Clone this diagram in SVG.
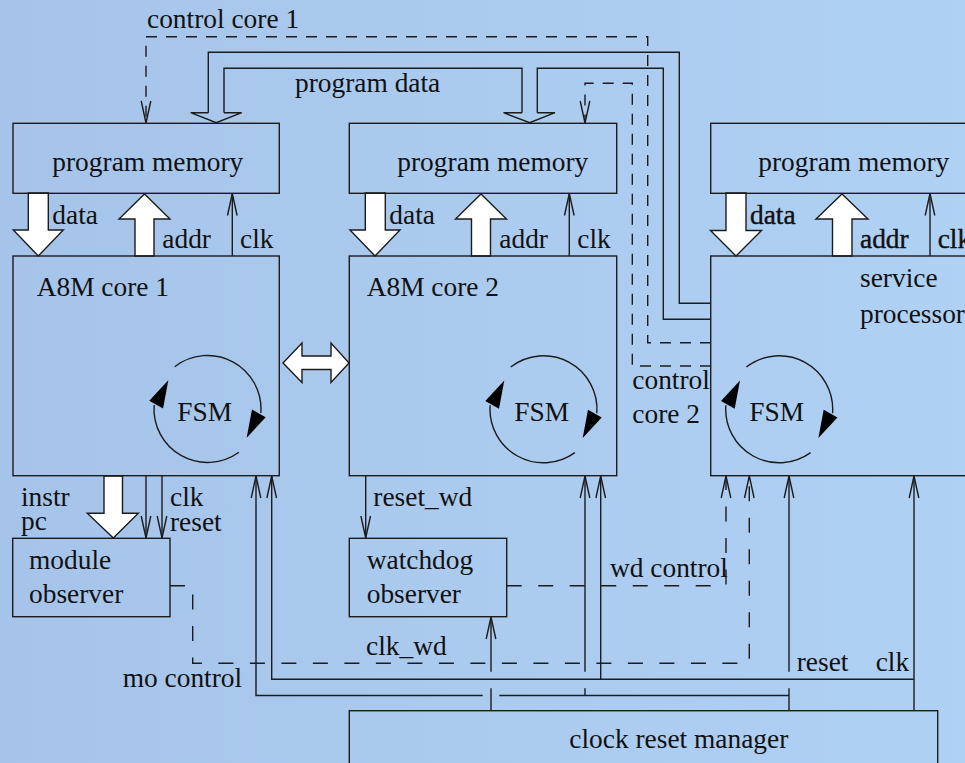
<svg xmlns="http://www.w3.org/2000/svg" width="965" height="763" viewBox="0 0 965 763">
  <style>
    .t { font-family: "Liberation Serif", "Times New Roman", serif; font-size: 27.4px; fill: #111; }
    .box { fill: none; stroke: #1c1c1c; stroke-width: 1.4; }
    .ln { fill: none; stroke: #1c1c1c; stroke-width: 1.4; }
    .arr { marker-end: url(#open); }
    .fat { fill: #fff; stroke: #1c1c1c; stroke-width: 1.4; stroke-linejoin: miter; }
    .d1 { fill: none; stroke: #1c1c1c; stroke-width: 1.4; stroke-dasharray: 11 9; }
    .d2 { fill: none; stroke: #1c1c1c; stroke-width: 1.4; stroke-dasharray: 15 16.5; }
    .fsmarc { fill: none; stroke: #1c1c1c; stroke-width: 1.4; }
    .fsmhead { fill: #000; stroke: none; }
    .bold { stroke: #111; stroke-width: 0.4; }
  </style>
  <defs>
    <linearGradient id="bg" x1="0" y1="0" x2="1" y2="0">
      <stop offset="0" stop-color="#a6c4e9"/>
      <stop offset="1" stop-color="#afd1f4"/>
    </linearGradient>
    <!-- open V arrowhead for thin signal lines -->
    <marker id="open" markerUnits="userSpaceOnUse" viewBox="-24 -7 26 14" markerWidth="26" markerHeight="14" refX="0" refY="0" orient="auto" overflow="visible">
      <path d="M-22,-4.8 L0,0 L-22,4.8" fill="none" stroke="#1c1c1c" stroke-width="1.4" stroke-dasharray="none"/>
    </marker>
    <!-- state machine symbol: two arcs with filled heads, centred on 0,0 -->
    <g id="fsm">
      <path class="fsmarc" d="M-32.8,-42.3 A53.5,53.5 0 0 1 53.35,4"/>
      <path class="fsmarc" d="M31.4,43.3 A53.5,53.5 0 0 1 -53.35,-4"/>
      <polygon class="fsmhead" points="39.2,28.7 44.5,0.5 58.2,8.3"/>
      <polygon class="fsmhead" points="-39.2,-28.7 -44.5,-0.5 -58.2,-8.3"/>
    </g>
  </defs>

  <rect width="965" height="763" fill="url(#bg)"/>

  <g id="connectors">
    <!-- wide data / address buses -->
    <path class="fat" d="M28.3,193 H48.3 V230 H63.3 L38.3,256 L13.3,230 H28.3 Z"/>
    <path class="fat" d="M365.3,193 H385.3 V230 H400 L375,256 L350,230 H365.3 Z"/>
    <path class="fat" d="M726,193 H746 V230.5 H761.5 L736,256 L710.5,230.5 H726 Z"/>
    <path class="fat" d="M144.5,194 L170,219 H154 V256 H135 V219 H119 Z"/>
    <path class="fat" d="M481,194 L506.5,219 H490.5 V256 H471.5 V219 H455.5 Z"/>
    <path class="fat" d="M842,194 L868,219 H852 V256 H832.5 V219 H816 Z"/>
    <path class="fat" d="M104,476 H122.5 V513.3 H138.3 L113.3,538 L87.3,513.3 H104 Z"/>
    <path class="fat" d="M283,363 L302,343 V356 H331 V343 L349,363 L331,382.5 V369.5 H302 V382.5 Z"/>

    <!-- program data bus (hollow outline) -->
    <path class="ln" d="M208.3,112.7 V52.3 H679.3 V303.3 H711"/>
    <path class="ln" d="M224,112.7 V68.3 H522 V112.7"/>
    <path class="ln" d="M537.3,112.7 V68.3 H663.3 V319.3 H711"/>
    <path class="ln" d="M208.3,112.7 H190.7 L216.2,122.7 L241.7,112.7 H224"/>
    <path class="ln" d="M522,112.7 H503.5 L529.7,122.7 L555,112.7 H537.3"/>

    <!-- memory clocks -->
    <path class="ln arr" d="M232.3,256 V193.5"/>
    <path class="ln arr" d="M569.3,256 V193.5"/>
    <path class="ln arr" d="M930,256 V193.5"/>

    <!-- core 1 to module observer -->
    <path class="ln arr" d="M146,476 V538"/>
    <path class="ln arr" d="M162,476 V538"/>
    <!-- reset_wd -->
    <path class="ln arr" d="M365.7,476 V538"/>

    <!-- clock distribution -->
    <path class="ln arr" d="M914,711 V476"/>
    <path class="ln arr" d="M914,679.3 H271.7 V476"/>
    <path class="ln arr" d="M600.7,679.3 V476"/>

    <!-- reset distribution (bridged at crossings) -->
    <path class="ln" d="M789,711 V688.3"/>
    <path class="ln arr" d="M789,671.7 V476"/>
    <path class="ln" d="M789,695.5 H499.3"/>
    <path class="ln arr" d="M482.7,695.5 H256 V476"/>
    <path class="ln" d="M585,695.5 V688.3"/>
    <path class="ln arr" d="M585,671.7 V476"/>

    <!-- clk_wd -->
    <path class="ln" d="M491,711 V688.3"/>
    <path class="ln arr" d="M491,671.7 V617"/>

    <!-- control paths from the service processor -->
    <path class="d1 arr" d="M711,342.7 H647.7 V36.7 H146 V123"/>
    <path class="d1 arr" d="M711,366 H632.3 V83.3 H585 V123"/>
    <path class="d2 arr" d="M170,585.7 H192.7 V663.3 H749.3 V476"/>
    <path class="d2 arr" d="M506.7,585.7 H726 V476"/>

    <!-- connector labels -->
    <text class="t" x="147" y="28">control core 1</text>
    <text class="t" x="295" y="91.7">program data</text>
    <text class="t" x="52.3" y="224">data</text>
    <text class="t" x="162.3" y="248.3">addr</text>
    <text class="t" x="240" y="248.3">clk</text>
    <text class="t" x="389.3" y="224">data</text>
    <text class="t" x="499.3" y="248.3">addr</text>
    <text class="t" x="577.3" y="248.3">clk</text>
    <text class="t bold" x="750" y="224.3">data</text>
    <text class="t bold" x="860" y="248.3">addr</text>
    <text class="t bold" x="937.7" y="248.3">clk</text>
    <text class="t" x="632.3" y="389">control</text>
    <text class="t" x="632.3" y="423">core 2</text>
    <text class="t" x="21" y="506">instr</text>
    <text class="t" x="21" y="530">pc</text>
    <text class="t" x="170" y="506">clk</text>
    <text class="t" x="170" y="530.7">reset</text>
    <text class="t" x="373.3" y="506">reset_wd</text>
    <text class="t" x="610" y="576.7">wd control</text>
    <text class="t" x="366" y="655">clk_wd</text>
    <text class="t" x="122.7" y="686.7">mo control</text>
    <text class="t" x="796.7" y="671">reset</text>
    <text class="t" x="875.7" y="671">clk</text>
  </g>

  <g id="pmem1">
    <rect class="box" x="13" y="123.3" width="266.3" height="70"/>
    <text class="t" x="52.3" y="170.7">program memory</text>
  </g>
  <g id="pmem2">
    <rect class="box" x="349.3" y="123.3" width="267.4" height="70"/>
    <text class="t" x="397.3" y="170.7">program memory</text>
  </g>
  <g id="pmem3">
    <rect class="box" x="710.7" y="123.3" width="300" height="70"/>
    <text class="t" x="758.3" y="170.7">program memory</text>
  </g>

  <g id="core1">
    <rect class="box" x="13" y="256" width="266.3" height="219.7"/>
    <text class="t" x="36.7" y="295.7">A8M core 1</text>
    <use href="#fsm" x="207.5" y="409"/>
    <text class="t" x="177.3" y="421">FSM</text>
  </g>
  <g id="core2">
    <rect class="box" x="349.3" y="256" width="267.4" height="219.7"/>
    <text class="t" x="366.7" y="295.7">A8M core 2</text>
    <use href="#fsm" x="543.5" y="409.3"/>
    <text class="t" x="514.3" y="420.7">FSM</text>
  </g>
  <g id="service">
    <rect class="box" x="710.7" y="256" width="300" height="219.7"/>
    <text class="t" x="860" y="286.7">service</text>
    <text class="t" x="860" y="322.7">processor</text>
    <use href="#fsm" x="779.2" y="409.3"/>
    <text class="t" x="749.3" y="420.7">FSM</text>
  </g>

  <g id="module-observer">
    <rect class="box" x="12.7" y="538.3" width="157.3" height="78.4"/>
    <text class="t" x="29" y="569">module</text>
    <text class="t" x="29" y="603.3">observer</text>
  </g>
  <g id="watchdog-observer">
    <rect class="box" x="349.3" y="538.3" width="157.4" height="78.4"/>
    <text class="t" x="366.7" y="569">watchdog</text>
    <text class="t" x="366.7" y="603.3">observer</text>
  </g>
  <g id="clock-reset-manager">
    <rect class="box" x="349.3" y="710.7" width="588.4" height="80"/>
    <text class="t" x="569.3" y="748.3">clock reset manager</text>
  </g>
</svg>
